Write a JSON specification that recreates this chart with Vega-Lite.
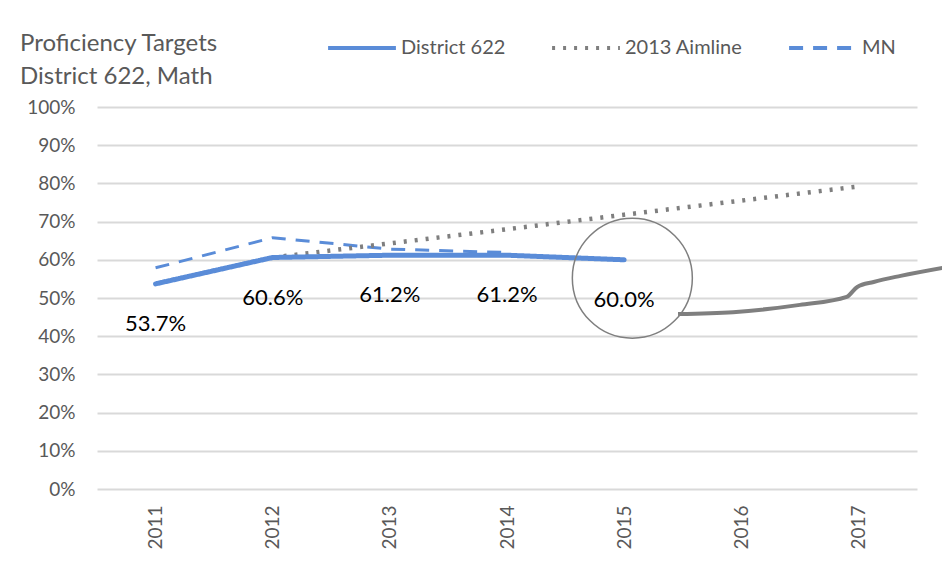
{
  "$schema": "https://vega.github.io/schema/vega-lite/v6.json",
  "autosize": "none",
  "width": 820,
  "height": 382,
  "padding": {"left": 97, "top": 107, "right": 25, "bottom": 74},
  "background": "white",
  "config": {
    "font": "Lato",
    "view": {"stroke": null},
    "axis": {"labelFont": "Lato", "labelColor": "#595959", "labelFontSize": 19, "domain": false, "ticks": false}
  },
  "title": {
    "text": ["Proficiency Targets", "District 622, Math"],
    "anchor": "start",
    "frame": "group",
    "font": "Lato",
    "fontSize": 24,
    "fontWeight": "normal",
    "color": "#595959",
    "lineHeight": 33,
    "dx": -77,
    "dy": 97,
    "offset": 20
  },
  "datasets": {
    "series": [
      {"year": 2011, "value": 53.7, "series": "District 622", "label": "53.7%"},
      {"year": 2012, "value": 60.6, "series": "District 622", "label": "60.6%"},
      {"year": 2013, "value": 61.2, "series": "District 622", "label": "61.2%"},
      {"year": 2014, "value": 61.2, "series": "District 622", "label": "61.2%"},
      {"year": 2015, "value": 60.0, "series": "District 622", "label": "60.0%"},
      {"year": 2012, "value": 60.6, "series": "2013 Aimline"},
      {"year": 2013, "value": 64.3, "series": "2013 Aimline"},
      {"year": 2014, "value": 68.0, "series": "2013 Aimline"},
      {"year": 2015, "value": 71.8, "series": "2013 Aimline"},
      {"year": 2016, "value": 75.5, "series": "2013 Aimline"},
      {"year": 2017, "value": 79.2, "series": "2013 Aimline"},
      {"year": 2011, "value": 57.9, "series": "MN"},
      {"year": 2012, "value": 65.8, "series": "MN"},
      {"year": 2013, "value": 62.8, "series": "MN"},
      {"year": 2014, "value": 61.9, "series": "MN"}
    ],
    "circle": [{"year": 2015.07, "value": 55.2}],
    "curve": [
      {"year": 2015.46, "value": 45.8},
      {"year": 2015.93, "value": 46.3},
      {"year": 2016.5, "value": 48.2},
      {"year": 2016.9, "value": 50.3},
      {"year": 2016.99, "value": 52.9},
      {"year": 2017.13, "value": 54.2},
      {"year": 2017.36, "value": 55.8},
      {"year": 2017.72, "value": 57.9}
    ]
  },
  "encoding": {
    "x": {
      "field": "year", "type": "quantitative",
      "scale": {"domain": [2010.5, 2017.5], "nice": false, "zero": false},
      "axis": {"values": [2011, 2012, 2013, 2014, 2015, 2016, 2017], "format": "d", "labelAngle": -90, "grid": false, "labelPadding": 16, "title": null, "labelAlign": "right", "labelBaseline": "middle"}
    },
    "y": {
      "field": "value", "type": "quantitative",
      "scale": {"domain": [0, 100], "nice": false},
      "axis": {"values": [0, 10, 20, 30, 40, 50, 60, 70, 80, 90, 100], "labelExpr": "datum.value + '%'", "grid": true, "gridColor": "#D9D9D9", "gridWidth": 2, "labelPadding": 22, "title": null}
    }
  },
  "layer": [
    {
      "data": {"name": "series"},
      "transform": [{"filter": "datum.series === 'MN'"}],
      "mark": {"type": "line", "strokeWidth": 3},
      "encoding": {
        "color": {"field": "series", "type": "nominal",
          "scale": {"domain": ["District 622", "2013 Aimline", "MN"], "range": ["#5A8CD8", "#7F7F7F", "#5A8CD8"]},
          "legend": {"orient": "none", "legendX": 229, "legendY": -95, "direction": "horizontal", "title": null, "symbolType": "stroke", "symbolSize": 4600, "symbolStrokeWidth": 4, "labelFont": "Lato", "labelFontSize": 20, "labelColor": "#595959", "labelOffset": 3, "columnPadding": 38}},
        "strokeDash": {"field": "series", "type": "nominal", "scale": {"domain": ["District 622", "2013 Aimline", "MN"], "range": [[1, 0], [3, 8], [14, 10]]}}
      }
    },
    {
      "data": {"name": "series"},
      "transform": [{"filter": "datum.series === '2013 Aimline'"}],
      "mark": {"type": "line", "strokeWidth": 4.5},
      "encoding": {
        "color": {"field": "series", "type": "nominal"},
        "strokeDash": {"field": "series", "type": "nominal"}
      }
    },
    {
      "data": {"name": "series"},
      "transform": [{"filter": "datum.series === 'District 622'"}],
      "mark": {"type": "line", "strokeWidth": 5, "strokeCap": "round"},
      "encoding": {
        "color": {"field": "series", "type": "nominal"},
        "strokeDash": {"field": "series", "type": "nominal"}
      }
    },
    {
      "data": {"name": "series"},
      "transform": [{"filter": "datum.series === 'District 622'"}],
      "mark": {"type": "text", "dy": 40, "fontSize": 22, "color": "#000000", "font": "Lato"},
      "encoding": {"text": {"field": "label"}}
    },
    {
      "data": {"name": "circle"},
      "mark": {"type": "point", "shape": "circle", "filled": false, "size": 14400, "stroke": "#7F7F7F", "strokeWidth": 1.5, "opacity": 1}
    },
    {
      "data": {"name": "curve"},
      "mark": {"type": "line", "interpolate": "monotone", "stroke": "#7F7F7F", "strokeWidth": 4, "clip": false}
    }
  ]
}
